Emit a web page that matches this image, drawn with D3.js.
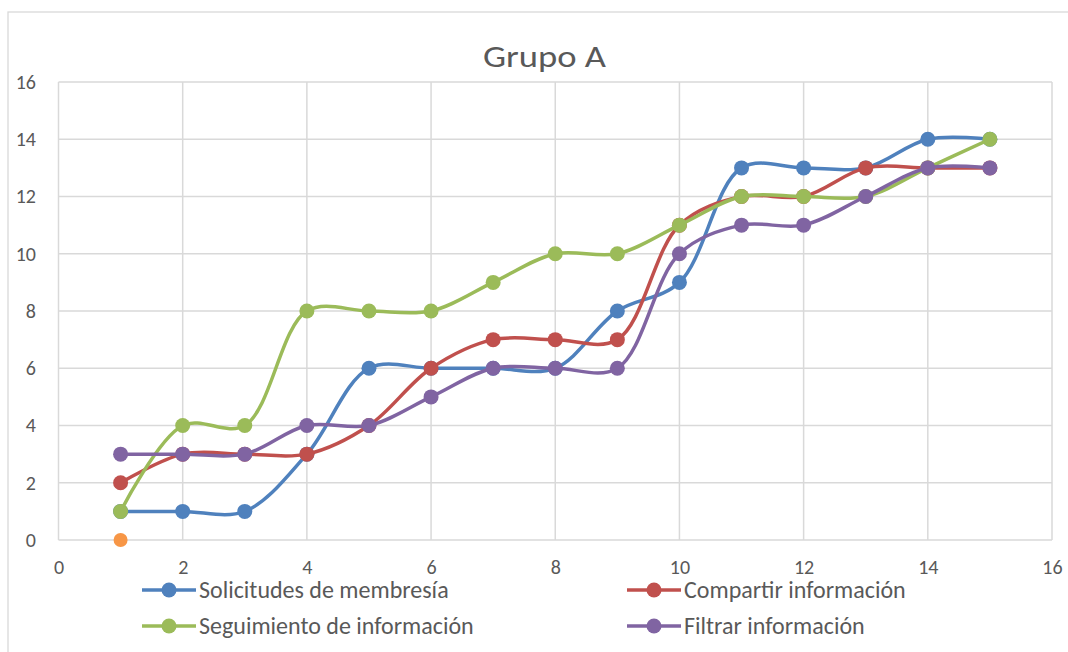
<!DOCTYPE html>
<html>
<head>
<meta charset="utf-8">
<script src="https://cdn.jsdelivr.net/npm/d3@7"></script>
<style>
  html, body { margin: 0; padding: 0; background: #fff; }
  svg { display: block; font-family: Calibri, Carlito, "Liberation Sans Narrow", "Open Sans", sans-serif; }
</style>
</head>
<body>
<svg id="chart" width="1068" height="652"></svg>
<script>
// Series data: x positions 1..15
const xValues = [1, 2, 3, 4, 5, 6, 7, 8, 9, 10, 11, 12, 13, 14, 15];
const solicitudes = [1, 1, 1, 3, 6, 6, 6, 6, 8, 9, 13, 13, 13, 14, 14];
const compartir = [2, 3, 3, 3, 4, 6, 7, 7, 7, 11, 12, 12, 13, 13, 13];
const seguimiento = [1, 4, 4, 8, 8, 8, 9, 10, 10, 11, 12, 12, 12, 13, 14];
const filtrar = [3, 3, 3, 4, 4, 5, 6, 6, 6, 10, 11, 11, 12, 13, 13];
const extraX = [1];
const extraY = [0];

const seriesNames = ["Solicitudes de membresía", "Compartir información", "Seguimiento de información", "Filtrar información"];
const seriesColors = ["#4F81BD", "#C0504D", "#9BBB59", "#8064A2"];
const extraColor = "#F79646";
const xTicks = [0, 2, 4, 6, 8, 10, 12, 14, 16];
const yTicks = [0, 2, 4, 6, 8, 10, 12, 14, 16];
const title = "Grupo A";

const FONT = "Calibri, Carlito, 'Liberation Sans Narrow', 'Open Sans', sans-serif";
const svg = d3.select("#chart");
const plot = { left: 58.5, right: 1052, top: 82, bottom: 540 };

const x = d3.scaleLinear().domain([0, 16]).range([plot.left, plot.right]);
const y = d3.scaleLinear().domain([0, 16]).range([plot.bottom, plot.top]);

// Outer chart border
svg.append("rect")
  .attr("x", 8).attr("y", 12)
  .attr("width", 1080).attr("height", 660)
  .attr("fill", "#fff").attr("stroke", "#d9d9d9").attr("stroke-width", 1.3);

// Title
svg.append("text")
  .attr("x", 483).attr("y", 67)
  .attr("font-size", 30)
  .attr("textLength", 123)
  .attr("lengthAdjust", "spacingAndGlyphs")
  .attr("fill", "#595959")
  .text(title);

// Gridlines
const grid = svg.append("g").attr("stroke", "#d9d9d9").attr("stroke-width", 1.5);
grid.selectAll("line.h").data(yTicks).join("line")
  .attr("x1", plot.left).attr("x2", plot.right)
  .attr("y1", d => y(d)).attr("y2", d => y(d));
grid.selectAll("line.v").data(xTicks).join("line")
  .attr("x1", d => x(d)).attr("x2", d => x(d))
  .attr("y1", plot.top).attr("y2", plot.bottom);

// Axes (labels only; lines drawn as grid)
const yAxis = d3.axisLeft(y).tickValues(yTicks).tickSize(0).tickPadding(0);
const gy = svg.append("g").attr("transform", `translate(36,0)`).call(yAxis);
gy.select(".domain").remove();
gy.selectAll("text").attr("font-size", 20).attr("fill", "#595959").attr("font-family", FONT);

const xAxis = d3.axisBottom(x).tickValues(xTicks).tickSize(0).tickPadding(0);
const gx = svg.append("g").attr("transform", `translate(0,${plot.bottom + 20})`).call(xAxis);
gx.select(".domain").remove();
gx.selectAll("text").attr("font-size", 20).attr("fill", "#595959").attr("font-family", FONT);

// Smoothed lines
const line = d3.line()
  .x(d => x(d[0])).y(d => y(d[1]))
  .curve(d3.curveCatmullRom.alpha(0.5));

const allSeries = [solicitudes, compartir, seguimiento, filtrar];
allSeries.forEach((vals, i) => {
  const pts = xValues.map((xv, j) => [xv, vals[j]]);
  const g = svg.append("g");
  g.append("path").datum(pts)
    .attr("d", line)
    .attr("fill", "none")
    .attr("stroke", seriesColors[i])
    .attr("stroke-width", 3.5)
    .attr("stroke-linejoin", "round");
  g.selectAll("circle").data(pts).join("circle")
    .attr("cx", d => x(d[0])).attr("cy", d => y(d[1]))
    .attr("r", 7.5)
    .attr("fill", seriesColors[i]);
});

// Single extra point
svg.selectAll("circle.extra").data(extraX.map((xv, j) => [xv, extraY[j]])).join("circle")
  .attr("class", "extra")
  .attr("cx", d => x(d[0])).attr("cy", d => y(d[1]))
  .attr("r", 7)
  .attr("fill", extraColor);

// Legend
const legendItems = [
  { name: seriesNames[0], color: seriesColors[0], lx: 142, ly: 590 },
  { name: seriesNames[1], color: seriesColors[1], lx: 627, ly: 590 },
  { name: seriesNames[2], color: seriesColors[2], lx: 142, ly: 626 },
  { name: seriesNames[3], color: seriesColors[3], lx: 627, ly: 626 }
];
const lg = svg.append("g");
legendItems.forEach(it => {
  lg.append("line")
    .attr("x1", it.lx).attr("x2", it.lx + 54)
    .attr("y1", it.ly).attr("y2", it.ly)
    .attr("stroke", it.color).attr("stroke-width", 3.5);
  lg.append("circle")
    .attr("cx", it.lx + 27).attr("cy", it.ly).attr("r", 7.5)
    .attr("fill", it.color);
  lg.append("text")
    .attr("x", it.lx + 57).attr("y", it.ly)
    .attr("dy", "0.35em")
    .attr("font-size", 24)
    .attr("fill", "#595959")
    .text(it.name);
});
</script>
</body>
</html>
